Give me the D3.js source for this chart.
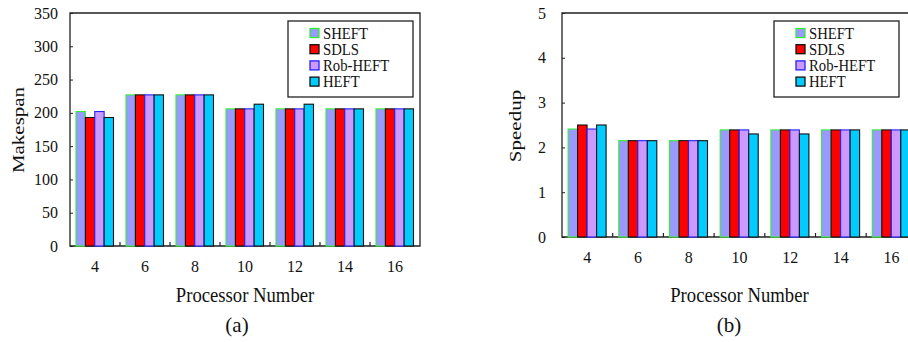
<!DOCTYPE html>
<html><head><meta charset="utf-8">
<script src="https://cdn.jsdelivr.net/npm/d3@7"></script>
<style>body{margin:0;background:#fff}svg{display:block;font-family:"Liberation Serif","Times New Roman",serif}</style>
</head><body><svg id="c" width="908" height="342"></svg>
<script>
const categories = ["4","6","8","10","12","14","16"];
const seriesNames = ["SHEFT","SDLS","Rob-HEFT","HEFT"];
const makespanSHEFT   = [202,227,227,206,206,206,206];
const makespanSDLS    = [193,227,227,206,206,206,206];
const makespanRobHEFT = [202,227,227,206,206,206,206];
const makespanHEFT    = [193,227,227,213,213,206,206];
const speedupSHEFT   = [2.41,2.15,2.15,2.39,2.39,2.39,2.39];
const speedupSDLS    = [2.50,2.15,2.15,2.39,2.39,2.39,2.39];
const speedupRobHEFT = [2.41,2.15,2.15,2.39,2.39,2.39,2.39];
const speedupHEFT    = [2.50,2.15,2.15,2.30,2.30,2.39,2.39];
const makespanTicks = [0,50,100,150,200,250,300,350];
const speedupTicks = [0,1,2,3,4,5];

const fills = ["#9999ff","#ff0000","#cc99ff","#00ccff"];
const strokes = ["#33ee33","#111111","#2222ff","#111111"];

const svg = d3.select("#c");

function panel(o){
  const g = svg.append("g");
  const x = d3.scaleBand().domain(categories).range([o.left, o.left + o.step*categories.length]).padding(0);
  const xi = d3.scaleBand().domain(seriesNames).range([o.step*0.12, o.step*0.87]).padding(0);
  const y = d3.scaleLinear().domain(o.domain).range([o.bottom, o.top]);
  const right = o.left + o.step*categories.length;
  g.append("path")
    .attr("d", `M${o.left},${o.top}H${right}V${o.bottom}H${o.left}Z`)
    .attr("fill","none").attr("stroke","#222").attr("stroke-width",1.3);
  o.values.forEach((vals,si)=>{
    g.selectAll(null).data(vals).enter().append("rect")
      .attr("x",(d,i)=>x(categories[i])+xi(seriesNames[si]))
      .attr("y",d=>y(d))
      .attr("width",xi.bandwidth())
      .attr("height",d=>y(0)-y(d))
      .attr("fill",fills[si]).attr("stroke",strokes[si]).attr("stroke-width",1.1);
  });
  const ya = g.append("g").attr("transform",`translate(${o.left},0)`)
    .call(d3.axisLeft(y).tickValues(o.ticks).tickFormat(d3.format("d")).tickSizeInner(-3).tickSizeOuter(0).tickPadding(o.tickPad));
  ya.select(".domain").remove();
  ya.selectAll(".tick line").attr("stroke","#222");
  ya.selectAll("text").attr("font-size",16).attr("font-family","Liberation Serif").attr("fill","#111");
  g.selectAll(null).data(categories.slice(1)).enter().append("line")
    .attr("x1",d=>x(d)).attr("x2",d=>x(d)).attr("y1",o.bottom).attr("y2",o.bottom-4)
    .attr("stroke","#222").attr("stroke-width",1.2);
  const xa = g.append("g").attr("transform",`translate(0,${o.bottom})`)
    .call(d3.axisBottom(x).tickSize(0).tickPadding(15));
  xa.select(".domain").remove();
  xa.selectAll("text").attr("font-size",16).attr("font-family","Liberation Serif").attr("fill","#111");
  const cx = o.left + o.step*3.5;
  g.append("text").attr("transform",`translate(${cx},302) scale(0.89,1)`)
    .attr("text-anchor","middle").attr("font-size",21).attr("fill","#111").text("Processor Number");
  g.append("text").attr("transform",`translate(${o.capX},332)`)
    .attr("text-anchor","middle").attr("font-size",21).attr("fill","#111").text(o.cap);
  g.append("text").attr("transform",`translate(${o.yTitleX},${o.yTitleY}) rotate(-90) scale(1,0.8)`)
    .attr("text-anchor","middle").attr("font-size",21).attr("fill","#111").text(o.yTitle);
  const L = o.legend;
  g.append("rect").attr("x",L.x).attr("y",L.y).attr("width",L.w).attr("height",L.h)
    .attr("fill","#fff").attr("stroke","#222").attr("stroke-width",1.3);
  seriesNames.forEach((s,i)=>{
    const cy = L.y + 12 + i*16.2;
    g.append("rect").attr("x",L.x+22).attr("y",cy-4.5).attr("width",9).attr("height",9)
      .attr("fill",fills[i]).attr("stroke",strokes[i]).attr("stroke-width",1.3);
    g.append("text").attr("transform",`translate(${L.x+35},${cy+5.5}) scale(0.92,1)`)
      .attr("font-size",16).attr("fill","#111").text(s);
  });
}

panel({left:70, step:50, top:13, bottom:246, domain:[0,350], ticks:makespanTicks, tickPad:12,
  values:[makespanSHEFT,makespanSDLS,makespanRobHEFT,makespanHEFT],
  yTitle:"Makespan", yTitleX:24, yTitleY:130, cap:"(a)", capX:237,
  legend:{x:288,y:21,w:125,h:76}});
panel({left:562, step:50.7, top:13, bottom:237, domain:[0,5], ticks:speedupTicks, tickPad:16,
  values:[speedupSHEFT,speedupSDLS,speedupRobHEFT,speedupHEFT],
  yTitle:"Speedup", yTitleX:521, yTitleY:126, cap:"(b)", capX:729,
  legend:{x:774,y:21,w:125,h:76}});
</script></body></html>
